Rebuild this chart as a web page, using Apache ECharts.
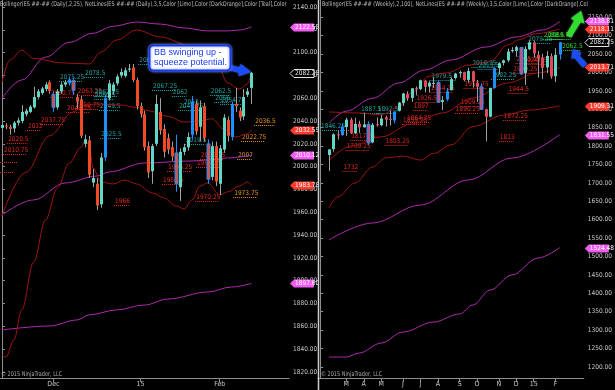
<!DOCTYPE html>
<html><head><meta charset="utf-8">
<script src="https://cdn.jsdelivr.net/npm/echarts@6/dist/echarts.min.js"></script>
<style>html,body{margin:0;padding:0;background:#000;}#c{width:615px;height:390px;}</style>
</head><body><div id="c"></div>
<script>
// ---------------- DATA ----------------
// Daily candles [open, close, low, high], category index 0..63
const dailyCandles = [
[2034,2036.5,2031,2038],[2036,2035.5,2033,2038],[2035,2033,2028,2037],[2033.5,2038.5,2030,2040],
[2038.5,2040.5,2036,2043],[2040,2048,2038,2054],[2046,2049,2044,2051],[2048,2052.5,2047,2054],
[2052,2061,2051,2070],[2061,2066,2059,2068],[2064.5,2068.5,2063,2070],[2068,2072,2066,2074],
[2074,2066.5,2064,2075.5],[2063,2052,2048,2066],[2052,2066,2050,2068],[2066,2072,2064,2074],
[2072,2074,2070,2076],[2073,2076.5,2071,2078],[2075.5,2067,2063,2078],[2061,2057,2051,2064],
[2059,2027,2025,2062],[2020,2024,2017,2028],[2023,1993,1990,2027],[1986,1990,1982,1998],
[1985,1966,1962,1990],[1967,2008,1964,2012],[2008,2060,2005,2063],[2060,2073,2058,2076],
[2066,2072,2063,2074],[2073,2079,2071,2081],[2080,2083,2078,2086],[2079.5,2084.5,2078,2087],
[2085,2086,2083,2090],[2087,2076,2074,2090],[2076,2053,2050,2078],[2053,2046,2043,2056],
[2046,2017,2014,2049],[2018,1995,1990,2022],[1996,2018,1985,2020],[2020,2055,2018,2063],
[2048,2032,2028,2060],[2033,2013,2008,2037],[2025,2015,2011,2029],[2017,2009,2005,2022],
[2012,1985,1978,2028],[1982,2013,1970,2016],[2013,2017,2010,2020],[2017,2026,2014,2030],
[2028,2057,2024,2062],[2055,2031,2028,2058],[2035,2052,2022,2058],[2053,2025,2022,2056],
[2020,1989,1985,2024],[1991,2018,1988,2022],[2018,1987,1983,2022],[1985,2016,1975,2019],
[2015,2043,2012,2046],[2041,2027,2022,2044],[2026,2055,2023,2057],[2055,2053,2048,2069],
[2049,2043,2040,2052],[2044,2061,2041,2068],[2063,2066,2061,2069],[2069,2082.25,2055,2083]
];
// painted bars: 1 = blue bar, 2 = down bar with blue outline
const dailyPaint = {13:2, 17:1, 18:2, 26:1, 44:2, 48:1, 52:2, 58:1};
const dailyCatCount = 73;
const dailyTickIdx = [13, 35, 55];
const dailyTickText = ['Dec', '15', 'Feb'];
const dailyYTicks = [1820,1840,1860,1880,1900,1920,1940,1960,1980,2000,2020,2040,2060,2080,2100,2120,2140];

// Daily Bollinger (dark red) and outer band (magenta): [index, value]
const dailyBBUpper = [[0,2074],[2,2093.5],[5,2102],[8,2095],[15,2091],[22,2090],[25,2100.5],[29,2111],[34,2119.8],[40,2113.7],[47,2106.7],[54,2093.5],[57,2073.4],[60,2068],[62,2072.5],[63,2081.3]];
const dailyBBMid = [[0,1957],[6,1995],[12,2027],[18,2048],[21,2054],[24,2055],[30,2054],[34,2052],[37,2049],[42,2044],[46,2039],[50,2040],[53,2042],[56,2033],[59,2026],[62,2028.6],[63,2032.5]];
const dailyBBLower = [[0,1834.9],[1,1833.1],[3,1848],[5,1874.4],[8,1916.4],[11,1953.3],[14,1981.3],[17,2003.2],[20,2017.2],[21,2022.5],[22,2019],[23,1998.8],[25,1986.6],[28,1984.8],[31,1988.3],[34,1984.8],[38,1976.9],[41,1972.5],[44,1965.5],[46,1962.9],[48,1970.8],[50,1983],[52,1985.7],[55,1975.2],[57,1977.8],[60,1983],[62,1986.6],[63,1983.8]];
const dailyOuterUpper = [[0,2060],[5,2076],[11,2096],[17,2109],[23,2117],[28,2123],[34,2126.8],[40,2125],[46,2121.6],[52,2119],[57,2119],[60,2119.8],[63,2122.5]];
const dailyOuterMid = [[0,1957.6],[8,1970.8],[16,1985.7],[24,1991.8],[27,1995.3],[36,2003.2],[48,2005],[57,2007.6],[63,2010.1]];
const dailyOuterLower = [[0,1856.8],[12,1860.3],[19,1865.6],[22,1870],[29,1874.4],[36,1878.7],[42,1884],[52,1890.1],[58,1894.5],[63,1897.6]];

// Daily NetLines labels: [x (category units), value, text, color, underline width]
const dailyLabels = [
[14.4,2075.25,'2075.25','teal'],[20.7,2078.5,'2078.5','teal'],[18.9,2063.25,'2063.25','red'],
[12.1,2060.75,'2060.75','red'],[18.4,2050.75,'2050.75','red'],[16.2,2048.25,'2048.25','red'],
[9.6,2037.75,'2037.75','red'],[6.3,2032,'2032','red'],[1.3,2020.5,'2020.5','red'],
[0.26,2010.75,'2010.75','red'],[-0.5,2004,'','red',17],[-0.5,1995.5,'','red',13],
[23.2,2062.25,'2062.25','teal'],[23.2,2059.5,'2060.5','teal'],[24.5,2049.5,'2049.5','teal'],
[24.8,2025.5,'2025.5','teal'],[34.4,2090,'2089.5','teal'],[37.9,2067.25,'2067.25','teal'],
[42.9,2062,'2062','teal'],[45.7,2053,'2053','teal'],[44.5,2049.75,'2049.75','teal'],
[46.2,2019.5,'2019.5','teal'],[52.5,2062.5,'2062.5','teal'],[53.6,2056.5,'2056','teal'],
[55.1,2055,'2054.75','teal'],[63.7,2036.5,'2036.5','orange'],[60.4,2022.75,'2022.75','orange'],
[59.4,2007,'2007','orange'],[58.4,1973.75,'1973.75','orange'],[48.8,1970.25,'1970.25','red'],
[28.3,1966,'1966','red'],[41.7,1996.25,'1996.25','red'],[40.4,1984.5,'1984.5','red'],
[50,2006.75,'2006.75','red'],[49,1999.25,'1999.25','red']
];
// Daily axis tags: [value, text, kind]
const dailyTags = [[2122.55,'2122.55','pink'],[2082.25,'2082.25','price'],[2032.55,'2032.55','red'],[2010.12,'2010.12','pink'],[1983.78,'1983.78','red'],[1897.6,'1897.60','pink']];

// Weekly candles [open, close, low, high], starting at category index weeklyStart
const weeklyStart = 2;
const weeklyCandles = [
[1776,1791,1732,1792],[1792,1832,1785,1835],[1832,1830,1818,1841],[1830,1853,1828,1861],
[1852,1872,1828,1877],[1872,1835,1833,1877],[1835,1860,1833,1877],[1861,1851,1836,1869],
[1851,1859,1851,1891],[1859,1809,1803,1867],[1810,1858,1808,1863],[1859,1857,1853,1878],
[1857,1875,1854,1885],[1878,1872,1853,1883],[1874,1872,1856,1896],[1870,1894,1862,1895],
[1896,1918,1894,1920],[1917,1943,1909,1945],[1942,1930,1923,1949],[1931,1957,1920,1958],
[1957,1954,1938,1962],[1955,1979,1952,1981],[1978,1961,1946,1980],[1962,1972,1946,1978],
[1971,1972,1958,1986],[1973,1919,1917,1978],[1920,1925,1898,1936],[1927,1949,1922,1958],
[1952,1982,1951,1987],[1985,1997,1981,1999],[1998,2001,1986,2005],[2001,1979,1976,2002],
[1980,2004,1972,2013],[2003,1976,1959,2005],[1972,1961,1920,1980],[1961,1900,1898,1971],
[1900,1880,1813,1902],[1880,1958,1878,1959],[1958,2012,1956,2014],[2012,2025,1995,2028],
[2026,2033,2019,2035],[2033,2057,2028,2065],[2059,2061,2054,2069],[2059,2069,2043,2073],
[2068,1996,1994,2069],[1999,2064,1966,2071],[2063,2082,2061,2087],[2082,2052,2040,2085],
[2048,2038,1986,2058],[2040,2013,1982,2051],[2014,2045,1998,2058],[2044,1989,1983,2052],
[1990,2048,1974,2066],[2049,2082.25,2035,2083]
];
const weeklyPaint = {5:1, 11:2, 17:1, 27:2, 29:1, 37:2, 40:1, 46:2, 55:1};
const weeklyCatCount = 61;
const weeklyTickIdx = [6,10,14,19,23,27,32,36,41,45,49,54];
const weeklyTickText = ['M','A','M','J','J','A','S','O','N','D','15','F'];
const weeklyYTicks = [1200,1250,1300,1350,1400,1450,1500,1550,1600,1650,1700,1750,1800,1850,1900,1950,2000,2050,2100,2150];

const weeklyBBUpper = [[2,1893],[9,1890],[14,1885],[18,1906],[21,1945],[25,1990],[29,1999],[34,2020],[39,2030],[43,2075],[46,2090],[49,2105],[55,2118.1]];
const weeklyBBMid = [[2,1760],[7,1800],[14,1825],[21,1860],[28,1890],[35,1930],[43,1971.5],[50,1999],[55,2013.7]];
const weeklyBBLower = [[2,1632],[4,1662],[8,1700],[12,1743],[15,1768],[19,1773],[23,1762],[26,1780],[30,1803],[35,1853],[42,1884],[48,1898],[55,1909.3]];
const weeklyOuterUpper = [[2,1862],[6,1895],[12,1930],[18,1971.5],[24,2006.8],[30,2034],[38,2069.3],[45,2096.5],[51,2115.5],[55,2138.8]];
const weeklyOuterMid = [[2,1545],[12,1591],[23,1640],[34,1708],[44,1767.7],[55,1831.6]];
const weeklyOuterLower = [[2,1227],[6,1227],[9,1238],[14,1265],[19,1295],[26,1322],[32,1344],[35,1368],[39,1409],[44,1450],[50,1496],[55,1524.5]];

const weeklyLabels = [
[-0.05,1845,'1846.25','teal',30],[9.14,1889,'1887.5','teal'],[12.96,1891,'1892.5','teal'],
[6.9,1817.25,'1817.25','red'],[5.8,1789.25,'1789.25','red'],[14.75,1803.25,'1803.25','red'],
[5.1,1732,'1732','red'],[21.25,1897,'1897','red'],[21.9,1921,'1926.5','red'],
[19.7,1864.75,'1864.75','red'],[18.8,1859,'1859.75','red'],[25.3,1979.5,'1979.5','teal',26],
[25.1,1947,'1944.25','red'],[32.9,1958,'1955.75','red'],[32,1909.25,'1909.25','red'],
[30.9,1890.25,'1890.25','red'],[43,1944.5,'1944.5','red'],[41.9,1872.25,'1872.25','red'],
[41,1813,'1813','red'],[34.7,2016,'2016.25','teal'],[36.1,2010,'2013.5','teal'],
[39.2,1982,'1982.25','teal'],[44.1,1998,'1999.25','red'],[44.8,2026,'2025.25','red'],
[46.4,2024,'2024.75','red'],[47.5,2079.25,'2079.25','teal'],[51.1,2090,'2088.5','green'],
[52.2,2091,'2089.75','green'],[55.3,2062.5,'2062.5','green',20]
];
const weeklyTags = [[2138.81,'2138.81','pink'],[2118.11,'2118.11','red'],[2082.25,'2082.25','price'],[2013.71,'2013.71','red'],[1909.31,'1909.31','red'],[1831.55,'1831.55','pink'],[1524.48,'1524.48','pink']];

// ---------------- STYLE ----------------
const F = '"Liberation Sans Narrow","DejaVu Sans Condensed","Liberation Sans",Arial,sans-serif';
const UP = '#5fd9c6', DOWN_D = '#f24a26', DOWN_W = '#e5475a', BLUE = '#1e8fff', WICK = '#a0a0a0';
const DARKRED = '#a01414', MAGENTA = '#ad2bad';
const LCOL = {teal:'#1ea3a3', red:'#e2291d', orange:'#e39420', green:'#2fd82f'};
const TAGS = {pink:{bg:'#f25cf2', fg:'#ffffff'}, red:{bg:'#ff3b2e', fg:'#ffffff'}, price:{bg:'#000000', fg:'#e8e8e8', border:'#e0e0e0'}};
const AXC = '#8e8e8e', TXT = '#c8c8c8';

function candleRender(paint, down) {
  return function (params, api) {
    const i = api.value(0), o = api.value(1), c = api.value(2), l = api.value(3), h = api.value(4);
    const po = api.coord([i, o]), pc = api.coord([i, c]), pl = api.coord([i, l]), ph = api.coord([i, h]);
    const bw = Math.max(2, Math.round(api.size([1, 0])[0] * 0.72));
    const cx = Math.round(po[0]);
    const top = Math.min(po[1], pc[1]), bot = Math.max(po[1], pc[1]);
    const up = c >= o;
    const p = paint[i];
    let fill = up ? UP : down, stroke = null;
    if (p === 1) fill = BLUE;
    if (p === 2) stroke = BLUE;
    return {type:'group', children:[
      {type:'line', shape:{x1:cx+0.5, y1:ph[1], x2:cx+0.5, y2:pl[1]}, style:{stroke: p ? BLUE : WICK, lineWidth:1}},
      {type:'rect', shape:{x: cx + 0.5 - bw/2, y: top, width: bw, height: Math.max(1, bot - top)},
       style:{fill: fill, stroke: stroke, lineWidth: stroke ? 1 : 0}}
    ]};
  };
}
function labelRender(src) {
  return function (params, api) {
    const d = src[params.dataIndex];
    const p = api.coord([d[0], d[1]]);
    const y = Math.round(p[1]) + 0.5;
    const w = d[4] != null ? d[4] : d[2].length * 2.9 + 3;
    const col = LCOL[d[3]];
    const ch = [{type:'line', shape:{x1:p[0], y1:y, x2:p[0] + w, y2:y}, style:{stroke:col, lineWidth:1, lineDash:[1,1]}}];
    if (d[2]) ch.push({type:'text', x:p[0] + 1, y:y - 1, style:{text:d[2], fill:col, font:'6.5px ' + F, verticalAlign:'bottom', align:'left'}});
    return {type:'group', children:ch};
  };
}
function tagRender(src) {
  return function (params, api) {
    const d = src[params.dataIndex];
    const cs = params.coordSys;
    const x0 = cs.x + cs.width + 1;
    const y = Math.round(api.coord([0, d[0]])[1]) + 0.5;
    const hh = 4, w = 24;
    const st = TAGS[d[2]];
    return {type:'group', children:[
      {type:'polygon', shape:{points:[[x0, y],[x0 + 4, y - hh],[x0 + w, y - hh],[x0 + w, y + hh],[x0 + 4, y + hh]]},
       style:{fill:st.bg, stroke:st.border || null, lineWidth:1}},
      {type:'text', x:x0 + 5, y:y, style:{text:d[1], fill:st.fg, font:'6.5px ' + F, verticalAlign:'middle', align:'left'}}
    ]};
  };
}
function lineSeries(data, color, xi, yi) {
  return {type:'line', xAxisIndex:xi, yAxisIndex:yi, data:data, smooth:0.35, smoothMonotone:'x',
    symbol:'none', lineStyle:{color:color, width:1}, z:2, silent:true, animation:false};
}
function catAxis(grid, count, tickIdx, tickText) {
  const cats = [];
  for (let i = 0; i < count; i++) cats.push('c' + i);
  const pick = function (index) { return tickIdx.indexOf(index) >= 0; };
  return {type:'category', gridIndex:grid, data:cats, boundaryGap:true,
    axisLine:{show:true, lineStyle:{color:AXC, width:1}},
    axisTick:{show:true, alignWithLabel:true, interval:pick, length:4, lineStyle:{color:AXC}},
    axisLabel:{interval:pick, color:TXT, fontSize:7, fontFamily:F, margin:3,
      formatter:function (v, index) { const k = tickIdx.indexOf(index); return k >= 0 ? tickText[k] : ''; }},
    splitLine:{show:false}};
}
function valAxisX(grid, count) {
  return {type:'value', gridIndex:grid, min:-0.5, max:count - 0.5, show:false};
}
function yAxis(grid, min, max, ticks) {
  return {type:'value', gridIndex:grid, position:'right', min:min, max:max, scale:true,
    axisLine:{show:true, lineStyle:{color:AXC}},
    axisTick:{show:true, length:3, customValues:ticks, lineStyle:{color:AXC}},
    axisLabel:{color:TXT, fontSize:6.5, fontFamily:F, margin:4, customValues:ticks,
      formatter:function (v) { return v.toFixed(2); }},
    splitLine:{show:false}};
}

const chart = echarts.init(document.getElementById('c'));
const dailyData = dailyCandles.map((r, i) => [i, r[0], r[1], r[2], r[3]]);
const weeklyData = weeklyCandles.map((r, k) => [k + weeklyStart, r[0], r[1], r[2], r[3]]);

chart.setOption({
  backgroundColor:'#000000',
  animation:false,
  grid:[{left:0, top:0, width:289, height:378}, {left:318, top:0, width:272, height:378}],
  xAxis:[catAxis(0, dailyCatCount, dailyTickIdx, dailyTickText), valAxisX(0, dailyCatCount),
         catAxis(1, weeklyCatCount, weeklyTickIdx, weeklyTickText), valAxisX(1, weeklyCatCount)],
  yAxis:[yAxis(0, 1814.7, 2146.1, dailyYTicks), yAxis(1, 1170, 2197, weeklyYTicks)],
  series:[
    {type:'custom', xAxisIndex:1, yAxisIndex:0, data:dailyLabels.map(d => [d[0], d[1]]), renderItem:labelRender(dailyLabels), z:1, silent:true},
    lineSeries(dailyOuterUpper, MAGENTA, 0, 0), lineSeries(dailyOuterMid, MAGENTA, 0, 0), lineSeries(dailyOuterLower, MAGENTA, 0, 0),
    lineSeries(dailyBBUpper, DARKRED, 0, 0), lineSeries(dailyBBMid, DARKRED, 0, 0), lineSeries(dailyBBLower, DARKRED, 0, 0),
    {type:'custom', xAxisIndex:0, yAxisIndex:0, data:dailyData, encode:{x:0, y:[1,2,3,4]}, renderItem:candleRender(dailyPaint, DOWN_D), z:3, silent:true},
    {type:'custom', xAxisIndex:1, yAxisIndex:0, data:dailyTags.map(d => [0, d[0]]), renderItem:tagRender(dailyTags), z:10, clip:false, silent:true},

    {type:'custom', xAxisIndex:3, yAxisIndex:1, data:weeklyLabels.map(d => [d[0], d[1]]), renderItem:labelRender(weeklyLabels), z:1, silent:true},
    lineSeries(weeklyOuterUpper, MAGENTA, 2, 1), lineSeries(weeklyOuterMid, MAGENTA, 2, 1), lineSeries(weeklyOuterLower, MAGENTA, 2, 1),
    lineSeries(weeklyBBUpper, DARKRED, 2, 1), lineSeries(weeklyBBMid, DARKRED, 2, 1), lineSeries(weeklyBBLower, DARKRED, 2, 1),
    {type:'custom', xAxisIndex:2, yAxisIndex:1, data:weeklyData, encode:{x:0, y:[1,2,3,4]}, renderItem:candleRender(weeklyPaint, DOWN_W), z:3, silent:true},
    {type:'custom', xAxisIndex:3, yAxisIndex:1, data:weeklyTags.map(d => [0, d[0]]), renderItem:tagRender(weeklyTags), z:10, clip:false, silent:true}
  ],
  graphic:[
    {type:'text', x:0, y:1, z:50, scaleX:0.84, style:{text:'Bollinger(ES ##-## (Daily),2,25), NetLines(ES ##-## (Daily),3,5,Color [Lime],Color [DarkOrange],Color [Teal],Color [Firebrick])',
      fill:'#bdbdbd', font:'6.5px ' + F, width:343, overflow:'truncate', ellipsis:''}},
    {type:'text', x:322, y:1, z:50, scaleX:0.84, style:{text:'Bollinger(ES ##-## (Weekly),2,100), NetLines(ES ##-## (Weekly),3,5,Color [Lime],Color [DarkOrange],Color [Teal]',
      fill:'#bdbdbd', font:'6.5px ' + F, width:318, overflow:'truncate', ellipsis:''}},
    {type:'text', x:1, y:371, z:50, scaleX:0.85, style:{text:'\u00a9 2015 NinjaTrader, LLC', fill:'#a8a8a8', font:'6.5px ' + F}},
    {type:'text', x:321, y:371, z:50, scaleX:0.85, style:{text:'\u00a9 2015 NinjaTrader, LLC', fill:'#a8a8a8', font:'6.5px ' + F}},
    {type:'line', z:50, shape:{x1:318.5, y1:0, x2:318.5, y2:390}, style:{stroke:'#cfcfcf', lineWidth:1.5}},
    // annotation box
    {type:'rect', z:60, shape:{x:149.5, y:45.5, width:81, height:25, r:4}, style:{fill:'#ffffff', stroke:'#1838f0', lineWidth:2, shadowBlur:3, shadowColor:'#7f9bff'}},
    {type:'text', z:61, x:154, y:53, style:{text:'BB swinging up -', fill:'#1a3cf5', font:'9px "Liberation Sans",Arial,sans-serif', verticalAlign:'middle'}},
    {type:'text', z:61, x:154, y:63, style:{text:'squeeze potential.', fill:'#1a3cf5', font:'9px "Liberation Sans",Arial,sans-serif', verticalAlign:'middle'}},
    {type:'polygon', z:59, shape:{points:[[229,65],[240,67.5],[240.5,64],[251,72],[238.5,76],[239,72.5],[228,70]]}, style:{fill:'#1a4cff', shadowBlur:2, shadowColor:'#6f8cff'}},
    // green arrow
    {type:'polygon', z:59, shape:{points:[[566,35],[574.5,20.5],[571,18.5],[581,11],[584.5,23.5],[580.5,22],[571,37.5]]}, style:{fill:'#2ee02e', shadowBlur:2, shadowColor:'#9f9'}},
    // blue arrow
    {type:'polygon', z:59, shape:{points:[[587,64],[579,55.5],[581.5,53],[573,49],[571.5,59],[574.5,57.5],[583,67.5]]}, style:{fill:'#1a4cff', shadowBlur:2, shadowColor:'#6f8cff'}}
  ]
});
</script></body></html>
